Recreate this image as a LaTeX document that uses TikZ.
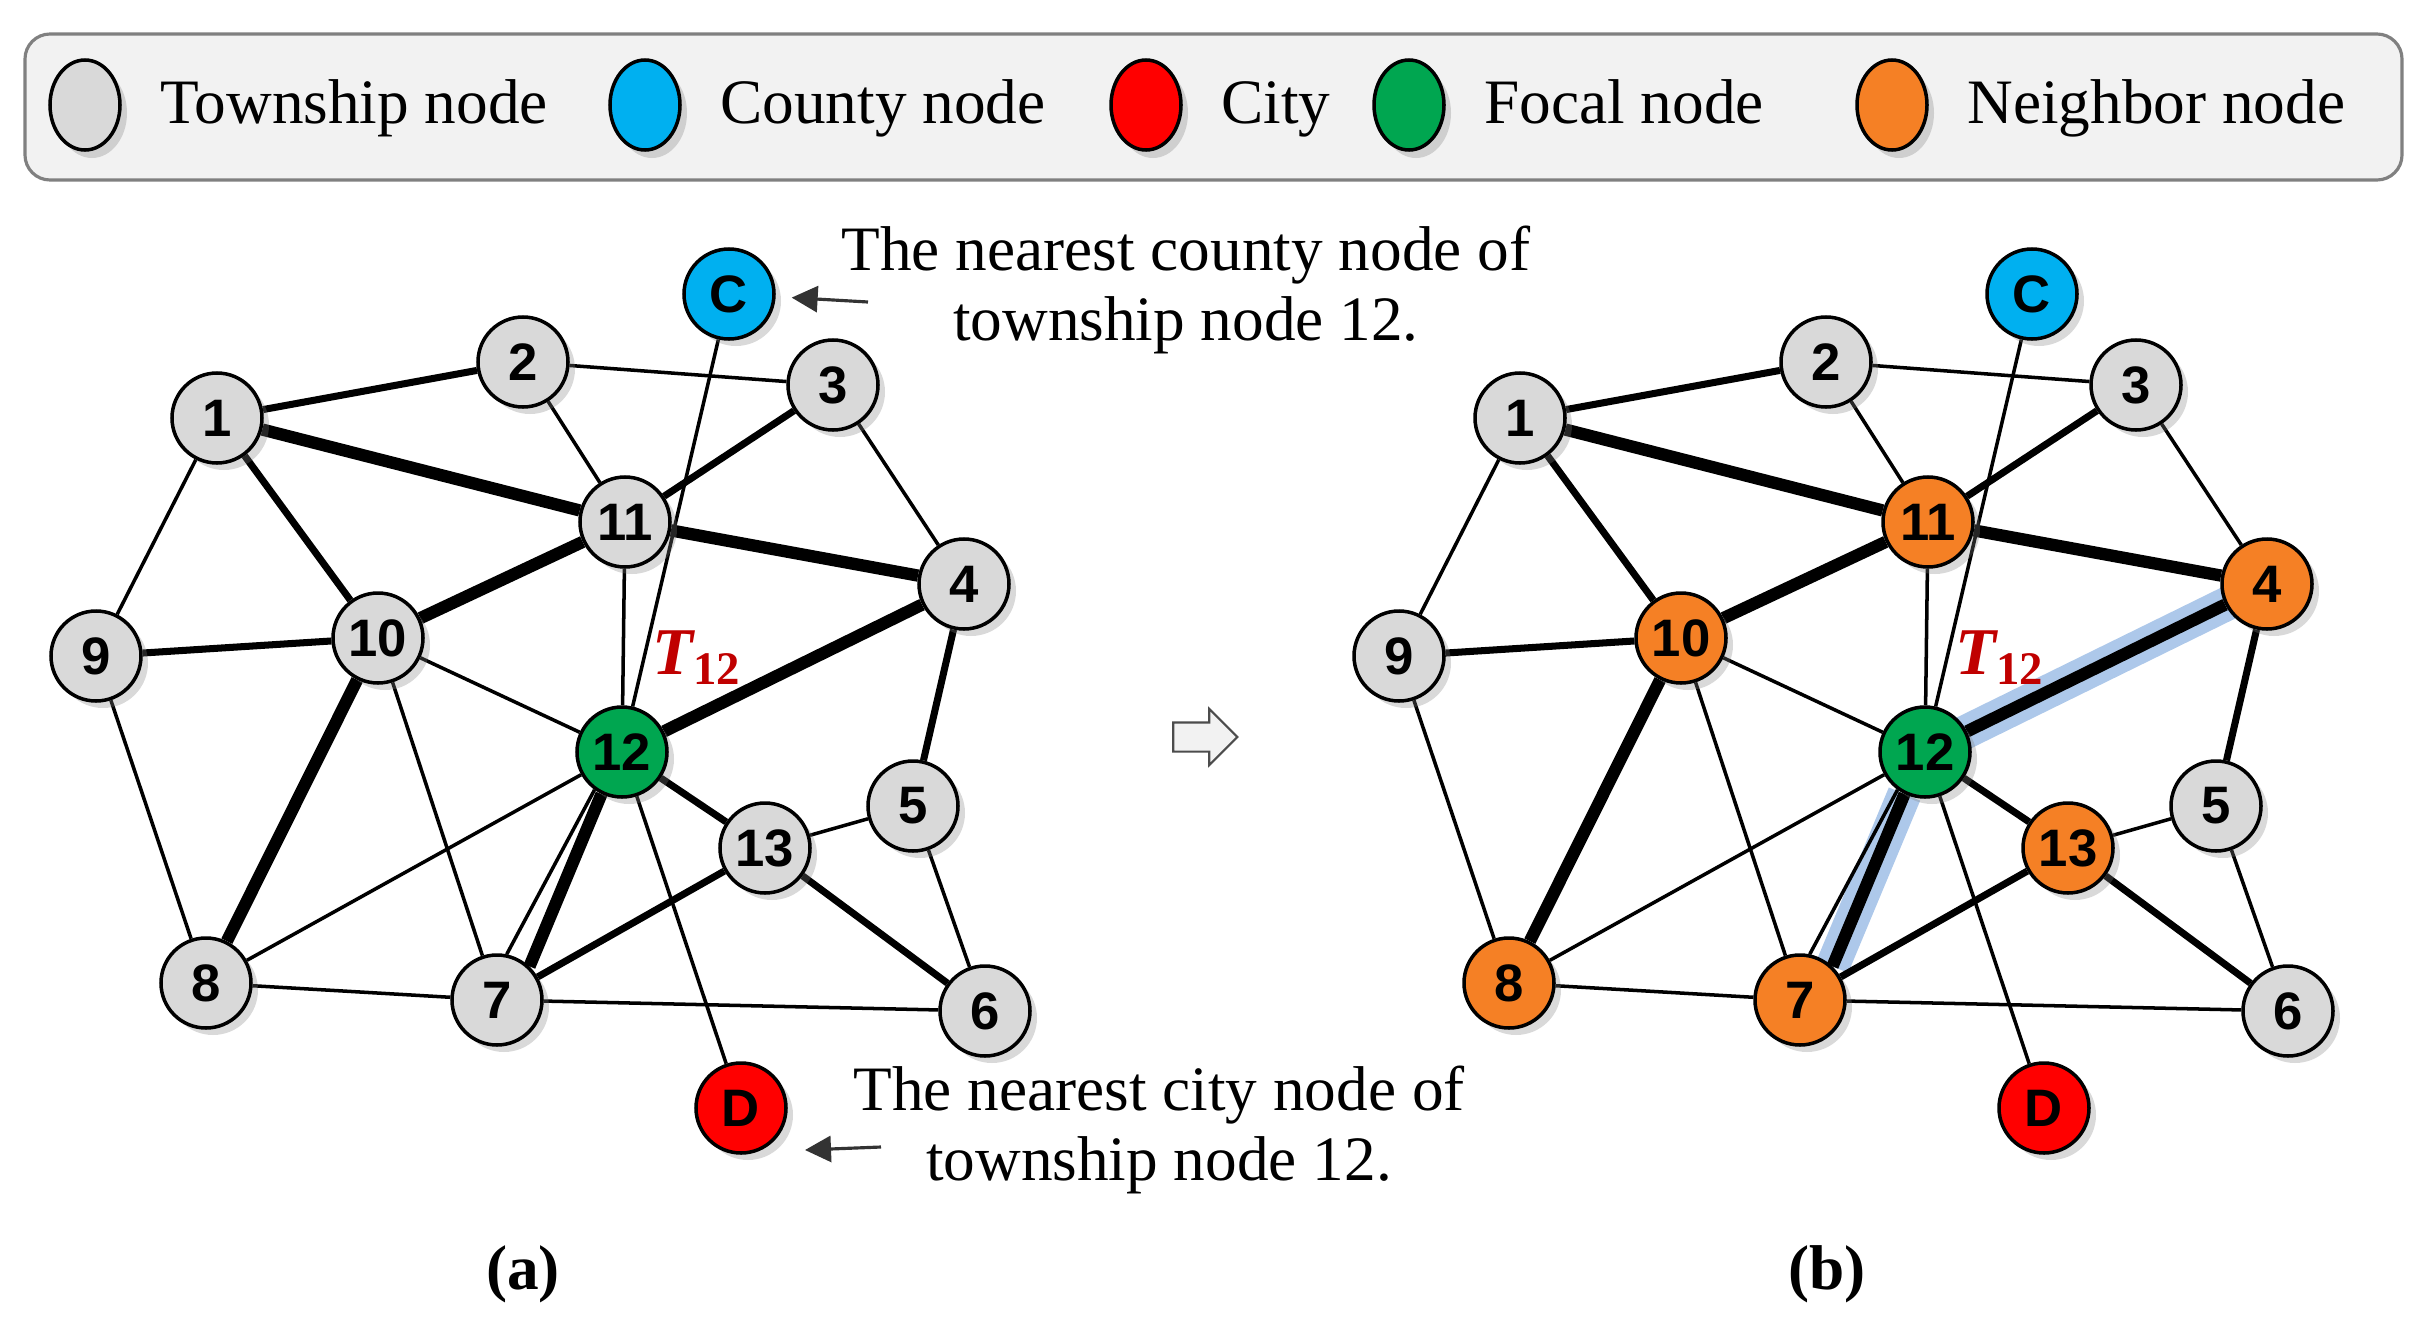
\documentclass[tikz,border=0pt]{standalone}
\usepackage{fontspec}
\setmainfont{Liberation Serif}
\newfontfamily\numfont{Liberation Sans}
\usetikzlibrary{arrows.meta,positioning,shadows,shapes.geometric,shapes.arrows,backgrounds}

\definecolor{townfill}{HTML}{D9D9D9}
\definecolor{countyfill}{HTML}{00B0F0}
\definecolor{cityfill}{HTML}{FF0000}
\definecolor{focalfill}{HTML}{00A650}
\definecolor{nbrfill}{HTML}{F58025}
\definecolor{legendfill}{HTML}{F2F2F2}
\definecolor{glow}{HTML}{4A86D0}
\definecolor{tred}{HTML}{C00000}

\pgfdeclarelayer{glowlayer}
\pgfsetlayers{glowlayer,background,main}

\begin{document}
\begin{tikzpicture}[
  font=\fontsize{18}{20}\selectfont,
  vtx/.style={circle, draw, line width=1pt, minimum size=9mm, inner sep=0pt,
              font=\numfont\bfseries\fontsize{15}{15}\selectfont,
              drop shadow={shadow xshift=0.7mm, shadow yshift=-0.7mm, opacity=0.3}},
  town/.style={vtx, fill=townfill},
  county/.style={vtx, fill=countyfill},
  city/.style={vtx, fill=cityfill},
  focal/.style={vtx, fill=focalfill},
  ln/.style={line width=1pt},
  md/.style={line width=2pt},
  tk/.style={line width=3.5pt},
  lgd/.style={ellipse, draw, line width=1pt, minimum width=7mm, minimum height=9mm,
              inner sep=0pt, drop shadow={shadow xshift=0.7mm, shadow yshift=-0.8mm, opacity=0.3}},
  lgdtxt/.style={inner sep=0pt, text height=1.6ex, text depth=0.3ex, yshift=-0.8mm},
  note/.style={align=center, inner sep=0pt},
  pointer/.style={-{Triangle[length=2.6mm,width=2.6mm]}, line width=0.9pt, black!80},
  glowline/.style={line width=3.4mm, glow, opacity=0.45},
  tlab/.style={text=tred, inner sep=0pt, font=\bfseries\itshape\fontsize{19}{19}\selectfont},
  caption/.style={font=\bfseries\fontsize{18}{20}\selectfont}]

\useasboundingbox (0,0) rectangle (24.27,-13.36);

% legend
\draw[fill=legendfill, draw=black!50, line width=0.9pt, rounded corners=2.5mm]
  (0.25,-0.34) rectangle (24.02,-1.80);
\node[lgd, fill=townfill] (lg-town) at (0.85,-1.05) {};
\node[lgdtxt, right=3.8mm of lg-town] (lt-town) {Township node};
\node[lgd, fill=countyfill] (lg-county) at (6.45,-1.05) {};
\node[lgdtxt, right=3.8mm of lg-county] (lt-county) {County node};
\node[lgd, fill=cityfill] (lg-city) at (11.46,-1.05) {};
\node[lgdtxt, right=3.8mm of lg-city] (lt-city) {City};
\node[lgd, fill=focalfill] (lg-focal) at (14.09,-1.05) {};
\node[lgdtxt, right=3.8mm of lg-focal] (lt-focal) {Focal node};
\node[lgd, fill=nbrfill] (lg-nbr) at (18.92,-1.05) {};
\node[lgdtxt, right=3.8mm of lg-nbr] (lt-nbr) {Neighbor node};

% both graphs, (b) colours the neighbours of 12
\foreach \p/\dx/\nbc in {a/0/townfill, b/13.03/nbrfill}{
\begin{scope}[xshift=\dx cm, nb/.style={vtx, fill=\nbc}]
  \node[town]   (\p-1)  at (2.17,-4.18)  {1};
  \node[town]   (\p-2)  at (5.23,-3.62)  {2};
  \node[town]   (\p-3)  at (8.33,-3.85)  {3};
  \node[nb]     (\p-4)  at (9.64,-5.84)  {4};
  \node[town]   (\p-5)  at (9.13,-8.06)  {5};
  \node[town]   (\p-6)  at (9.85,-10.11) {6};
  \node[nb]     (\p-7)  at (4.97,-10.00) {7};
  \node[nb]     (\p-8)  at (2.06,-9.83)  {8};
  \node[town]   (\p-9)  at (0.96,-6.56)  {9};
  \node[nb]     (\p-10) at (3.78,-6.38)  {10};
  \node[nb]     (\p-11) at (6.25,-5.22)  {11};
  \node[focal]  (\p-12) at (6.22,-7.52)  {12};
  \node[nb]     (\p-13) at (7.65,-8.48)  {13};
  \node[county] (\p-C)  at (7.29,-2.94)  {C};
  \node[city]   (\p-D)  at (7.41,-11.08) {D};
  \node[tlab]   (\p-T)  at (6.97,-6.58)  {T{\upshape\textsubscript{12}}};
  \begin{pgfonlayer}{background}
    \draw[md] (\p-1) -- (\p-2);
    \draw[ln] (\p-2) -- (\p-3);
    \draw[tk] (\p-1) -- (\p-11);
    \draw[md] (\p-1) -- (\p-10);
    \draw[ln] (\p-1) -- (\p-9);
    \draw[ln] (\p-2) -- (\p-11);
    \draw[md] (\p-3) -- (\p-11);
    \draw[ln] (\p-3) -- (\p-4);
    \draw[tk] (\p-11) -- (\p-4);
    \draw[tk] (\p-11) -- (\p-10);
    \draw[ln] (\p-11) -- (\p-12);
    \draw[ln] (\p-C) -- (\p-12);
    \draw[md] (\p-9) -- (\p-10);
    \draw[ln] (\p-9) -- (\p-8);
    \draw[tk] (\p-10) -- (\p-8);
    \draw[ln] (\p-10) -- (\p-12);
    \draw[ln] (\p-10) -- (\p-7);
    \draw[tk] (\p-12) -- (\p-4);
    \draw[md] (\p-4) -- (\p-5);
    \draw[ln] (\p-12) -- (\p-8);
    \draw[ln] (\p-12.234) -- (\p-7.78);
    \draw[tk] (\p-12.244) -- (\p-7.46);
    \draw[md] (\p-12) -- (\p-13);
    \draw[ln] (\p-12) -- (\p-D);
    \draw[ln] (\p-13) -- (\p-5);
    \draw[md] (\p-13) -- (\p-7);
    \draw[md] (\p-13) -- (\p-6);
    \draw[ln] (\p-5) -- (\p-6);
    \draw[ln] (\p-8) -- (\p-7);
    \draw[ln] (\p-7) -- (\p-6);
  \end{pgfonlayer}
\end{scope}
}

% paths through the focal node
\begin{pgfonlayer}{glowlayer}
  \draw[glowline] (b-12.center) -- (b-4.center);
  \draw[glowline] (b-12.244) -- (b-7.46);
\end{pgfonlayer}

% notes on C and D
\node[note] (cnote) at (11.86,-2.90) {The nearest county node of\\township node 12.};
\coordinate (ctail) at (8.68,-3.02);
\draw[pointer, shorten >=1.6mm] (ctail) -- (a-C);
\node[note] (dnote) at (11.59,-11.30) {The nearest city node of\\township node 12.};
\coordinate (dtail) at (8.81,-11.47);
\coordinate (dhead) at (8.05,-11.50);
\draw[pointer] (dtail) -- (dhead);

\node[single arrow, draw=black!70, fill=black!5, line width=0.6pt, inner sep=0pt,
      minimum height=6.4mm, single arrow head extend=1.35mm]
  (go) at (11.98,-7.37) {\rule{0pt}{2.7mm}};

\node[caption] (cap-a) at (5.23,-12.74) {(a)};
\node[caption] (cap-b) at (18.27,-12.74) {(b)};
\end{tikzpicture}
\end{document}
